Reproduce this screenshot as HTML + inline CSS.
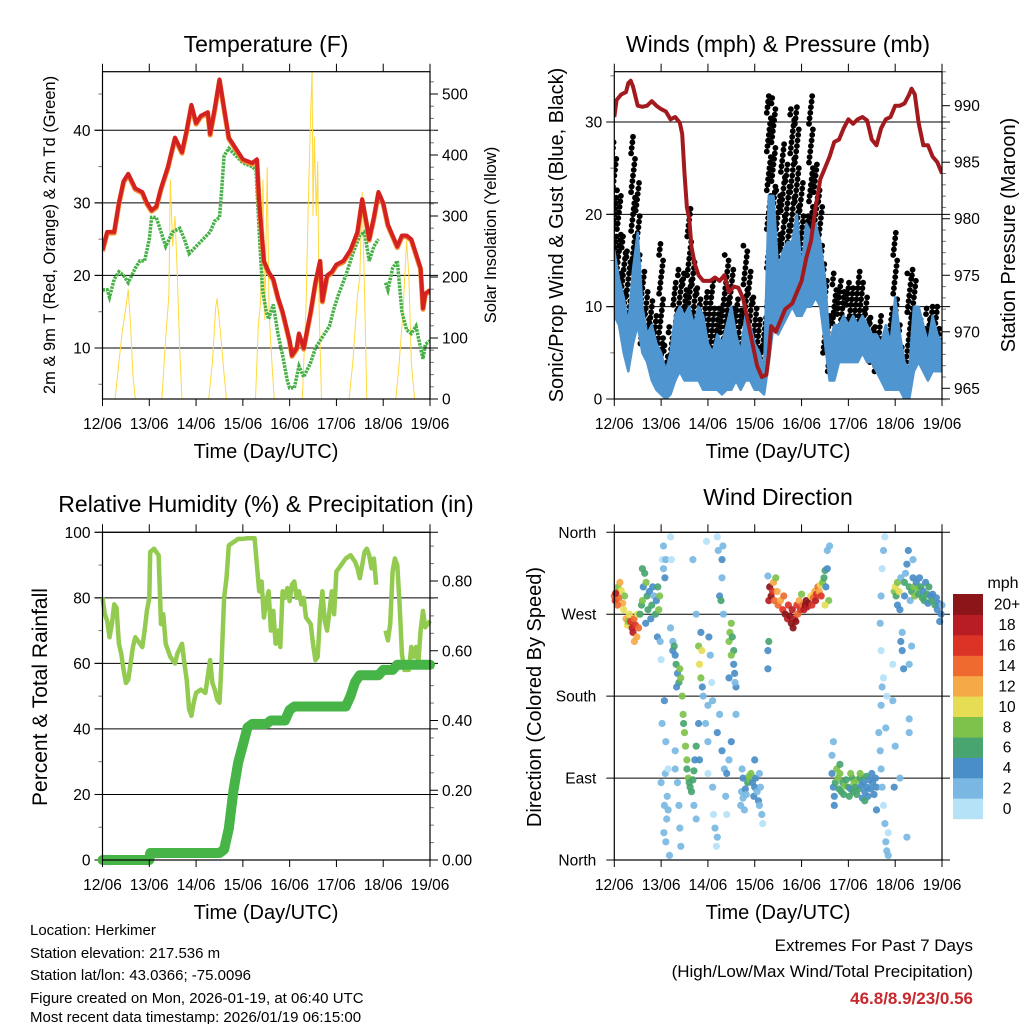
<!DOCTYPE html>
<html><head><meta charset="utf-8">
<style>
html,body{margin:0;padding:0;background:#fff;}
svg{display:block;font-family:"Liberation Sans",Arial,sans-serif;}
</style></head>
<body>
<svg id="chart" width="1024" height="1024" viewBox="0 0 1024 1024" xmlns="http://www.w3.org/2000/svg">
<rect width="1024" height="1024" fill="#fff"/>
<g id="p1"></g>
<g id="p2"></g>
<g id="p3"></g>
<g id="p4"></g>
<g id="txt" font-size="16" fill="#000">
<text x="266" y="52" font-size="23" text-anchor="middle">Temperature (F)</text>
<text x="778" y="52" font-size="23" text-anchor="middle">Winds (mph) &amp; Pressure (mb)</text>
<text x="266" y="512" font-size="23" text-anchor="middle">Relative Humidity (%) &amp; Precipitation (in)</text>
<text x="778" y="505" font-size="23" text-anchor="middle">Wind Direction</text>
<text x="266" y="458" font-size="20" text-anchor="middle">Time (Day/UTC)</text>
<text x="778" y="458" font-size="20" text-anchor="middle">Time (Day/UTC)</text>
<text x="266" y="919" font-size="20" text-anchor="middle">Time (Day/UTC)</text>
<text x="778" y="919" font-size="20" text-anchor="middle">Time (Day/UTC)</text>
<text transform="translate(55,235) rotate(-90)" font-size="16.5" text-anchor="middle">2m &amp; 9m T (Red, Orange) &amp; 2m Td (Green)</text>
<text transform="translate(496,235) rotate(-90)" font-size="16.5" text-anchor="middle">Solar Insolation (Yellow)</text>
<text transform="translate(563,235) rotate(-90)" font-size="20" text-anchor="middle">Sonic/Prop Wind &amp; Gust (Blue, Black)</text>
<text transform="translate(1015,235) rotate(-90)" font-size="20" text-anchor="middle">Station Pressure (Maroon)</text>
<text transform="translate(47,697) rotate(-90)" font-size="21" text-anchor="middle">Percent &amp; Total Rainfall</text>
<text transform="translate(541,697) rotate(-90)" font-size="20" text-anchor="middle">Direction (Colored By Speed)</text>
<text x="1003" y="588" font-size="16" text-anchor="middle">mph</text>
<g font-size="15">
<text x="30" y="935">Location: Herkimer</text>
<text x="30" y="958">Station elevation: 217.536 m</text>
<text x="30" y="980">Station lat/lon: 43.0366; -75.0096</text>
<text x="30" y="1003">Figure created on Mon, 2026-01-19, at 06:40 UTC</text>
<text x="30" y="1025" dy="-3">Most recent data timestamp: 2026/01/19 06:15:00</text>
</g>
<text x="973" y="951" font-size="17" text-anchor="end">Extremes For Past 7 Days</text>
<text x="973" y="977" font-size="17" text-anchor="end">(High/Low/Max Wind/Total Precipitation)</text>
<text x="973" y="1004" font-size="17" font-weight="bold" fill="#c8282d" text-anchor="end">46.8/8.9/23/0.56</text>
</g>
</svg>
<script>
// ===== Data =====
const dayLabels=["12/06","13/06","14/06","15/06","16/06","17/06","18/06","19/06"];
const tempT=[0,0.1,0.25,0.35,0.45,0.55,0.7,0.85,0.95,1.05,1.15,1.25,1.4,1.55,1.7,1.8,1.9,2.0,2.1,2.25,2.3,2.4,2.5,2.6,2.7,2.85,3.0,3.2,3.3,3.35,3.45,3.55,3.65,3.75,3.85,4.0,4.05,4.15,4.2,4.3,4.45,4.55,4.65,4.7,4.8,4.9,5.0,5.15,5.3,5.45,5.55,5.65,5.7,5.8,5.9,6.0,6.1,6.2,6.3,6.4,6.5,6.6,6.7,6.8,6.85,6.9,7.0];
const tempV=[23.5,26,26,30,33,34,32,31.5,30,29,29.5,32,35,39,37,40,43.5,41,42,42.5,39.5,43,47,43,39,37.5,36,35.5,36,30,22,20.5,19.5,17,15,11,9,10,12,10,15,19,22,16.5,20,20.5,21.5,22,23.5,26,30.5,27,25,28,31.5,30,27,25.5,24,25.5,25.5,25,23,21,15.5,17.5,18];
const dewT=[0,0.1,0.15,0.25,0.35,0.45,0.55,0.7,0.8,0.9,1.0,1.05,1.15,1.25,1.35,1.5,1.65,1.75,1.85,2.0,2.15,2.3,2.4,2.5,2.55,2.6,2.7,2.85,3.0,3.2,3.28,3.35,3.42,3.5,3.55,3.65,3.75,3.85,3.95,4.0,4.1,4.2,4.3,4.45,4.55,4.7,4.85,4.95,5.05,5.2,5.35,5.5,5.6,5.7,5.8,5.9,5.95,6.05,6.1,6.2,6.3,6.4,6.5,6.6,6.7,6.8,6.85,6.9,7.0];
const dewV=[18,18,17,19.5,20.5,20,19,21,22,22,25,28,28,26,24,26,26.5,25,23,24,25,26,27.5,28,32,36.5,37.5,36.5,35.5,35,34.5,26,18,15,14,16,12,9,5.5,4.5,4.5,7.5,6,8,10,11.5,13,15.5,17.5,20,23,25.5,26,22,24,25,null,19,18,21,22,15,12.5,12,13,10,8.5,10.5,11];
const solarT=[0,0.27,0.35,0.42,0.5,0.55,0.6,0.65,0.7,1.27,1.35,1.42,1.45,1.5,1.55,1.6,1.65,1.7,2.27,2.35,2.42,2.45,2.52,2.6,2.65,3.27,3.33,3.38,3.43,3.47,3.52,3.56,3.62,3.67,4.27,4.35,4.4,4.45,4.48,4.5,4.53,4.57,4.6,4.63,4.68,5.27,5.35,5.45,5.5,5.55,5.6,5.65,6.27,6.33,6.42,6.5,6.55,6.6,6.67,7];
const solarV=[0,0,60,110,150,180,120,40,0,0,100,170,360,250,300,200,80,0,0,60,150,165,110,40,0,0,120,160,360,130,380,140,60,0,0,150,330,470,540,300,430,300,390,150,0,0,60,170,200,340,180,0,0,50,140,260,200,60,0,0];
const presT=[0,0.05,0.15,0.25,0.3,0.35,0.4,0.5,0.6,0.7,0.8,0.9,1.0,1.1,1.2,1.3,1.4,1.45,1.5,1.55,1.6,1.65,1.72,1.8,1.9,2.05,2.15,2.25,2.35,2.45,2.55,2.65,2.75,2.85,2.95,3.05,3.15,3.25,3.3,3.35,3.45,3.55,3.65,3.8,3.9,4.0,4.1,4.2,4.3,4.4,4.5,4.6,4.7,4.8,4.9,5.0,5.1,5.2,5.3,5.4,5.5,5.6,5.7,5.8,5.9,6.0,6.1,6.2,6.3,6.35,6.42,6.5,6.6,6.7,6.8,6.9,7.0];
const presV=[989,990.5,991,991.2,992,992.2,991.7,990,989.9,990,990.4,990,989.7,989.5,988.8,989,988.5,987.5,984,981,980,977.5,976,975,974.5,974.5,974.8,974.5,975,973.5,974,973.9,973,971,969,967,966,966.2,968,970.5,970,971,972,972.5,973.5,974.5,976.5,978,981,983.5,984.5,985.5,986.8,987,988,988.8,988.4,988.8,989,988.7,987,986.5,988,988.8,989,990,990,990.2,991,991.5,991,988.5,986.5,986.5,985.5,985,984];
const windT=[0,0.1,0.2,0.3,0.4,0.5,0.6,0.7,0.8,0.9,1.0,1.1,1.2,1.3,1.4,1.5,1.6,1.7,1.8,1.9,2.0,2.1,2.2,2.3,2.4,2.5,2.6,2.7,2.8,2.9,3.0,3.1,3.2,3.3,3.4,3.5,3.6,3.7,3.8,3.9,4.0,4.1,4.2,4.3,4.4,4.5,4.6,4.7,4.8,4.9,5.0,5.1,5.2,5.3,5.4,5.5,5.6,5.7,5.8,5.9,6.0,6.1,6.2,6.3,6.4,6.5,6.6,6.7,6.8,6.9,7.0];
const windHi=[16,13,11,8,14,18,10,7,8,6,5,3,5,9,10,9,10,8,10,9,6,5,7,6,8,10,7,5,9,8,6,5,3,22,22,14,16,17,17,20,14,19,18,19,17,13,6,8,8,9,8,9,8,9,8,7,7,6,8,6,11,7,4,3,10,10,8,6,9,7,6];
const windLo=[9,8,5,3,6,8,5,4,2,1,0.5,0,0.5,2,3,2,2,2,2,1,1,1,1,0.5,1,1,2,1,2,2,1,1,0.5,4,8,7,8,9,10,9,9,10,10,11,10,6,2,2,4,4,4,4,4,5,4,4,3,2,1,1,1,1,0,0,3,4,3,2,3,3,3];
const gustHi=[28,23,18,16,29,24,14,12,11,9,17,6,8,13,14,14,21,15,12,10,12,13,10,11,16,14,11,10,17,14,11,9,9,33,33,23,28,26,32,32,24,20,33,26,23,15,9,14,13,12,13,12,14,13,11,9,8,9,6,10,18,8,5,14,14,10,8,10,10,10,7];
const gustLo=[14,10,8,7,14,12,6,5,4,3,3,1,3,6,5,4,5,4,3,2,2,2,2,3,3,2,3,3,4,3,2,2,1,10,11,10,12,11,14,13,12,12,13,14,13,5,3,4,5,5,6,6,6,6,5,4,3,3,2,2,3,2,1,1,5,5,4,5,4,4,4];
const rhT=[0,0.05,0.1,0.15,0.2,0.25,0.3,0.35,0.4,0.45,0.5,0.55,0.6,0.65,0.7,0.8,0.85,0.9,0.95,1.0,1.02,1.1,1.2,1.25,1.3,1.35,1.45,1.55,1.6,1.7,1.75,1.8,1.85,1.9,1.95,2.0,2.1,2.2,2.3,2.35,2.4,2.45,2.5,2.55,2.6,2.65,2.7,2.8,2.9,3.0,3.1,3.25,3.3,3.35,3.4,3.45,3.5,3.55,3.6,3.65,3.7,3.75,3.8,3.85,3.9,3.95,4.0,4.05,4.1,4.15,4.2,4.25,4.3,4.35,4.45,4.5,4.55,4.6,4.65,4.7,4.75,4.8,4.9,4.95,5.0,5.05,5.1,5.2,5.3,5.4,5.45,5.5,5.55,5.6,5.65,5.7,5.75,5.8,5.85,5.95,6.05,6.1,6.15,6.2,6.25,6.3,6.35,6.4,6.45,6.55,6.6,6.65,6.7,6.75,6.8,6.85,6.9,7.0];
const rhV=[80,75,73,68,72,78,77,66,63,58,54,55,60,65,68,66,65,70,76,80,94,95,93,72,75,66,62,60,63,66,60,55,46,44,48,51,52,51,61,54,52,49,48,62,80,86,96,97,98,98,98.2,98.2,90,82,85,74,79,82,70,76,66,70,65,82,80,83,79,84,85,80,82,78,80,74,72,66,61,62,75,82,73,70,82,75,88,89,90,92,93,91,89,86,90,94,95,93,89,92,84,null,70,67,72,88,92,90,78,63,58,58,65,62,65,60,70,76,71,73];
const precipT=[0,1.0,1.02,2.5,2.6,2.7,2.8,2.9,3.0,3.1,3.2,3.5,3.6,3.9,4.0,4.1,5.2,5.3,5.4,5.5,5.9,6.0,6.2,6.3,7.0];
const precipV=[0,0,0.02,0.02,0.03,0.09,0.2,0.28,0.33,0.38,0.39,0.39,0.40,0.40,0.43,0.44,0.44,0.47,0.51,0.53,0.53,0.545,0.545,0.56,0.56];
const dirT=[0,0.02,0.05,0.08,0.1,0.12,0.15,0.18,0.2,0.22,0.25,0.28,0.3,0.32,0.03,0.07,
0.35,0.38,0.4,0.42,0.45,0.48,0.5,0.52,0.43,
0.55,0.58,0.6,0.62,0.65,0.68,0.7,0.72,0.75,0.78,0.8,0.82,0.85,0.88,0.9,0.93,0.95,0.97,0.6,0.67,0.92,
0.98,1.0,1.02,1.03,1.05,1.05,1.06,1.07,1.08,1.09,1.1,1.1,1.12,1.13,1.15,1.18,1.2,1.22,1.2,1.25,1.0,1.07,1.1,1.15,
1.25,1.28,1.3,1.32,1.35,1.38,1.4,1.42,1.45,1.47,1.5,1.52,1.55,1.55,1.58,1.6,1.62,1.65,1.68,1.7,1.72,1.75,1.48,1.35,1.38,1.4,1.42,1.3,1.3,1.33,
1.8,1.82,1.85,1.87,1.88,1.9,1.85,1.75,1.68,1.8,1.82,1.75,1.7,
1.95,2.0,2.0,2.02,2.05,2.08,2.1,2.1,2.12,2.15,2.18,2.2,2.2,2.25,2.25,2.28,2.3,2.3,2.32,2.33,2.3,2.35,2.38,2.4,2.2,2.22,1.97,2.0,
2.45,2.47,2.5,2.52,2.55,2.5,2.55,2.57,2.6,2.58,2.45,2.6,2.5,2.45,2.4,
2.7,2.72,2.75,2.8,2.82,2.85,2.88,2.9,2.92,2.95,2.98,3.0,3.02,3.05,3.08,3.1,3.12,3.15,3.17,2.73,2.78,3.0,3.1,2.75,
3.28,3.3,3.28,3.28,3.3,3.32,3.35,3.38,3.4,3.42,3.45,3.48,3.5,3.55,3.6,3.62,3.65,3.7,3.72,3.75,3.78,3.8,3.82,3.85,3.88,3.9,3.92,3.95,3.98,4.0,4.02,4.05,4.08,4.1,4.12,4.15,4.2,4.22,4.25,4.28,4.3,4.32,4.35,4.38,4.4,4.42,4.45,4.48,4.5,4.52,4.55,4.55,4.6,4.58,4.5,
4.65,4.68,4.7,4.72,4.75,4.78,4.8,4.82,4.85,4.88,4.9,4.92,4.95,5.0,5.02,5.05,5.08,5.1,5.12,5.15,5.18,5.2,5.22,5.25,5.28,5.3,5.32,5.35,5.38,5.4,5.42,5.45,5.48,5.5,5.52,5.55,5.58,5.6,4.65,4.68,4.7,4.82,5.05,5.25,5.6,5.35,
5.65,5.68,5.7,5.72,5.75,5.78,5.8,5.82,5.85,5.7,5.72,5.75,5.68,5.7,5.72,5.75,5.78,5.8,5.82,5.7,5.85,
5.98,6.0,6.02,6.05,6.05,6.08,6.1,6.12,6.12,6.15,6.15,6.18,6.2,6.2,6.22,6.25,6.28,6.3,6.32,6.35,6.38,6.4,6.42,6.45,6.48,6.5,6.52,6.55,6.58,6.6,6.62,6.65,6.68,6.7,6.72,6.75,6.78,6.8,6.85,6.88,6.9,6.92,6.95,6.98,7.0,6.35,6.3,6.3,6.3,6.38,6.1,6.25,5.95,5.95,6.0,5.98];
const dirDeg=[290,285,295,300,288,305,296,282,275,290,265,258,262,270,293,280,
262,255,250,265,258,245,270,255,240,
270,280,285,300,315,305,290,275,295,265,280,300,290,270,285,300,275,290,320,260,245,
240,85,150,330,345,320,30,60,310,95,20,330,45,70,55,5,355,330,255,240,220,175,130,100,
230,235,225,215,205,195,210,200,180,160,140,125,110,100,90,85,80,75,88,98,110,125,150,85,60,35,15,120,100,190,
235,215,200,230,190,180,250,270,330,150,110,45,60,
150,130,170,245,225,195,175,80,50,35,15,25,140,160,290,285,310,330,345,270,120,100,70,95,355,340,350,95,
240,250,260,245,230,225,215,205,190,195,200,160,130,110,50,
60,75,90,78,72,85,92,88,95,85,70,80,90,75,65,60,80,50,40,100,55,110,95,68,
230,240,210,312,285,300,290,295,305,285,310,295,280,285,275,290,270,265,280,268,260,275,255,265,262,280,270,285,275,292,280,275,280,285,278,282,290,280,288,295,285,292,300,295,302,290,305,310,318,300,320,340,345,285,280,
95,80,70,85,100,90,78,95,75,85,72,82,88,80,70,78,90,75,85,80,72,88,78,90,82,68,85,75,92,80,70,88,78,95,85,72,90,80,115,130,60,105,95,95,55,65,
140,120,100,80,60,40,20,10,5,170,190,200,260,290,320,340,355,145,180,230,30,
295,300,290,305,280,295,275,310,240,230,250,210,290,305,315,325,340,300,285,295,310,300,290,305,298,292,310,300,288,295,285,305,292,282,300,290,285,292,280,288,275,282,262,270,280,235,215,155,140,330,90,25,215,175,125,80];
const dirSpd=[14,16,12,8,14,12,10,12,10,8,12,10,8,10,18,14,
16,18,18,14,16,12,10,14,12,
6,6,8,4,6,8,6,6,4,4,6,4,2,6,4,6,8,8,6,4,4,
1,2,2,0,2,2,2,2,4,2,2,2,2,2,2,2,0,0,2,2,0,4,2,0,
4,6,4,6,4,6,8,8,8,8,8,8,8,6,8,6,6,6,6,6,4,6,6,2,2,2,2,2,2,4,
8,10,8,10,4,2,4,2,2,4,4,2,2,
2,2,2,4,2,0,2,2,0,2,0,2,4,2,4,6,2,4,2,2,4,2,2,4,0,2,0,0,
8,8,8,6,6,8,4,4,4,2,4,2,4,2,0,
2,2,4,4,2,6,8,8,8,4,4,4,4,2,4,2,2,2,0,2,2,4,2,2,
4,6,4,2,18,20,20,16,12,14,8,12,14,12,16,14,20,18,16,20,20,18,20,18,20,16,14,12,16,8,14,18,20,20,18,20,10,16,14,12,18,16,14,12,10,16,8,6,6,4,4,2,2,8,10,
4,4,4,6,8,8,6,8,6,6,6,8,6,6,6,4,6,6,8,6,6,8,6,6,4,4,4,4,6,4,4,4,4,4,4,4,4,4,2,2,4,6,8,8,4,6,
2,2,2,2,0,2,2,2,2,2,2,0,2,2,0,2,0,2,0,0,0,
8,10,6,8,4,10,4,2,4,4,2,4,4,6,2,4,4,6,2,6,4,8,8,4,8,6,4,6,6,4,6,4,6,4,6,4,6,4,6,4,4,4,4,4,2,2,2,2,2,2,2,2,0,2,2,4];
const speedLabels=["0","2","4","6","8","10","12","14","16","18","20+"];
const speedColors=["#b6e2f8","#7ab8e3","#4a8ec8","#48a56f","#7ec24b","#e6dd55","#f6a947","#ee6a2e","#dc3327","#b91d24","#8c1519"];

// ===== Helpers =====
const NS="http://www.w3.org/2000/svg";
function mk(parent,tag,attrs){const e=document.createElementNS(NS,tag);for(const k in attrs)e.setAttribute(k,attrs[k]);parent.appendChild(e);return e;}
function linear(d0,d1,r0,r1){return v=>r0+(v-d0)/(d1-d0)*(r1-r0);}
function pathFrom(ts,vs,xs,ys){let d="",pen=false;for(let i=0;i<ts.length;i++){if(vs[i]===null){pen=false;continue;}d+=(pen?"L":"M")+xs(ts[i]).toFixed(1)+","+ys(vs[i]).toFixed(1);pen=true;}return d;}

function frame(g,X0,X1,Y0,Y1,name){
  const b=mk(g,"rect",{x:X0,y:Y0,width:X1-X0,height:Y1-Y0,fill:"none",stroke:"#000","stroke-width":1.2});
  
  
  const xs=linear(0,7,X0,X1);
  for(let d=0;d<=7;d++){
    const x=xs(d);
    const t1=mk(g,"line",{x1:x,y1:Y1,x2:x,y2:Y1+7,stroke:"#000","stroke-width":1});
    
    
    const t2=mk(g,"line",{x1:x,y1:Y0,x2:x,y2:Y0-8,stroke:"#000","stroke-width":1});
    
    
    const lb=mk(g,"text",{x:x,y:Y1+30,"text-anchor":"middle","font-size":15.5});
    lb.textContent=dayLabels[d];
    
    
  }
  return xs;
}
function yAxis(g,X0,X1,ys,ticks,labels,minors,side,name,grid){
  ticks.forEach((v,i)=>{
    const y=ys(v);
    if(grid){const gl=mk(g,"line",{x1:X0-8,y1:y,x2:X1+8,y2:y,stroke:"#000","stroke-width":1});
      
      }
    const tk=mk(g,"line",{x1:side==="left"?X0-8:X1,y1:y,x2:side==="left"?X0:X1+8,y2:y,stroke:"#000","stroke-width":1});
    
    
    const t=mk(g,"text",{x:side==="left"?X0-12:X1+12,y:y+5.5,"text-anchor":side==="left"?"end":"start","font-size":15.5});
    t.textContent=labels[i];
    
    
  });
  minors.forEach(v=>{const y=ys(v);
    const m=mk(g,"line",{x1:side==="left"?X0-4:X1,y1:y,x2:side==="left"?X0:X1+4,y2:y,stroke:"#777","stroke-width":1});
    
    });
}

// ===== Panel 1: Temperature =====
(function(){
  const g=document.getElementById("p1");
  const X0=102.5,X1=430,Y0=71.7,Y1=399;
  const xs=linear(0,7,X0,X1);
  const yT=linear(40,10,130.3,348);
  const yS=linear(0,500,399,94);
  const clip=mk(g,"clipPath",{id:"c1"});mk(clip,"rect",{x:X0,y:Y0,width:X1-X0,height:Y1-Y0});
  yAxis(g,X0,X1,yT,[10,20,30,40],["10","20","30","40"],[5,15,25,35,45],"left","p1-left",true);
  const sm=[];for(let v=20;v<=520;v+=20)if(v%100)sm.push(v);
  yAxis(g,X0,X1,yS,[0,100,200,300,400,500],["0","100","200","300","400","500"],sm,"right","p1-right",false);
  const d=mk(g,"g",{"clip-path":"url(#c1)"});
  const s=mk(d,"path",{d:pathFrom(solarT,solarV,xs,yS),fill:"none",stroke:"#ffd93d","stroke-width":1});
  
  
  const dw=mk(d,"path",{d:pathFrom(dewT,dewV,xs,yT),fill:"none",stroke:"#45b045","stroke-width":3.5,"stroke-dasharray":"2.5 1"});
  
  
  const o=mk(d,"path",{d:pathFrom(tempT,tempV.map(v=>v-0.15),xs,yT),fill:"none",stroke:"#f28a30","stroke-width":5,"stroke-linejoin":"round"});
  
  
  const r=mk(d,"path",{d:pathFrom(tempT,tempV,xs,yT),fill:"none",stroke:"#d42121","stroke-width":4,"stroke-linejoin":"round"});
  
  
  frame(g,X0,X1,Y0,Y1,"p1");
})();

// ===== Panel 2: Winds & Pressure =====
(function(){
  const g=document.getElementById("p2");
  const X0=614.3,X1=942,Y0=71.7,Y1=399;
  const xs=linear(0,7,X0,X1);
  const yW=linear(0,30,399,122);
  const yP=linear(965,990,388.3,105.7);
  const clip=mk(g,"clipPath",{id:"c2"});mk(clip,"rect",{x:X0,y:Y0,width:X1-X0,height:Y1-Y0});
  yAxis(g,X0,X1,yW,[0,10,20,30],["0","10","20","30"],[5,15,25,35],"left","p2-left",true);
  const pm=[];for(let v=964;v<=993;v++)if(v%5)pm.push(v);
  yAxis(g,X0,X1,yP,[965,970,975,980,985,990],["965","970","975","980","985","990"],pm,"right","p2-right",false);
  const d=mk(g,"g",{"clip-path":"url(#c2)"});
  const gg=mk(d,"g",{fill:"#000"});
  
  
  for(let i=0;i<windT.length;i++){
    let k=0;
    for(let v=gustLo[i];v<=gustHi[i];v+=0.6){
      const off=((k%7)-3)*0.014;
      const c=mk(gg,"circle",{cx:xs(windT[i]+off).toFixed(1),cy:yW(v).toFixed(1),r:2.9});
      
      
      k++;
    }
  }
  let dd="M"+windT.map((t,i)=>xs(t).toFixed(1)+","+yW(windHi[i]).toFixed(1)).join("L");
  for(let i=windT.length-1;i>=0;i--)dd+="L"+xs(windT[i]).toFixed(1)+","+yW(windLo[i]).toFixed(1);
  const w=mk(d,"path",{d:dd+"Z",fill:"#4f95d0",stroke:"#4f95d0","stroke-width":2.5,"stroke-linejoin":"round"});
  
  
  const p=mk(d,"path",{d:pathFrom(presT,presV,xs,yP),fill:"none",stroke:"#a31a1e","stroke-width":4,"stroke-linejoin":"round"});
  
  
  frame(g,X0,X1,Y0,Y1,"p2");
})();

// ===== Panel 3: RH & Precip =====
(function(){
  const g=document.getElementById("p3");
  const X0=102.5,X1=430,Y0=532.3,Y1=860;
  const xs=linear(0,7,X0,X1);
  const yR=linear(0,100,860,532.3);
  const yPr=linear(0,0.8,860,581);
  const clip=mk(g,"clipPath",{id:"c3"});mk(clip,"rect",{x:X0-6,y:Y0,width:X1-X0+12,height:Y1-Y0+6});
  yAxis(g,X0,X1,yR,[0,20,40,60,80,100],["0","20","40","60","80","100"],[10,30,50,70,90],"left","p3-left",true);
  const rm=[];for(let v=0.05;v<0.93;v+=0.05){const r=Math.round(v*100)/100;if(Math.round(r*100)%20)rm.push(r);}
  yAxis(g,X0,X1,yPr,[0,0.2,0.4,0.6,0.8],["0.00","0.20","0.40","0.60","0.80"],rm,"right","p3-right",false);
  const d=mk(g,"g",{"clip-path":"url(#c3)"});
  const rh=mk(d,"path",{d:pathFrom(rhT,rhV,xs,yR),fill:"none",stroke:"#92cb50","stroke-width":4.5,"stroke-linejoin":"round"});
  
  
  const pr=mk(d,"path",{d:pathFrom(precipT,precipV,xs,yPr),fill:"none",stroke:"#46b446","stroke-width":10,"stroke-linejoin":"round","stroke-linecap":"round"});
  
  
  frame(g,X0,X1,Y0,Y1,"p3");
})();

// ===== Panel 4: Wind Direction =====
(function(){
  const g=document.getElementById("p4");
  const X0=614.3,X1=942,Y0=532.3,Y1=860;
  const xs=linear(0,7,X0,X1);
  const yD=linear(0,360,860,532.3);
  const names=["North","East","South","West","North"];
  [0,90,180,270,360].forEach((v,i)=>{
    const y=yD(v);
    const gl=mk(g,"line",{x1:X0-8,y1:y,x2:X1+8,y2:y,stroke:"#000","stroke-width":1});
    
    
    const t=mk(g,"text",{x:X0-18,y:y+5.5,"text-anchor":"end","font-size":15.5});
    t.textContent=names[i];
    
    
  });
  const sc=mk(g,"g",{});
  
  
  for(let i=0;i<dirT.length;i++){
    const idx=Math.min(10,Math.round(dirSpd[i]/2));
    const c=mk(sc,"circle",{cx:xs(dirT[i]).toFixed(1),cy:yD(dirDeg[i]).toFixed(1),r:3.6,fill:speedColors[idx],"fill-opacity":0.92});
    
    
  }
  frame(g,X0,X1,Y0,Y1,"p4");
  const cb=mk(g,"g",{});
  
  
  const top=594,bot=818.7,h=(bot-top)/11;
  for(let i=0;i<11;i++){
    const y=bot-(i+1)*h;
    const r=mk(cb,"rect",{x:953,y:y.toFixed(1),width:30,height:(h+0.5).toFixed(1),fill:speedColors[i]});
    
    
    const t=mk(cb,"text",{x:1007,y:(y+h/2+5.5).toFixed(1),"text-anchor":"middle","font-size":15.5});
    t.textContent=speedLabels[i];
    
    
  }
})();
</script>
</body></html>
